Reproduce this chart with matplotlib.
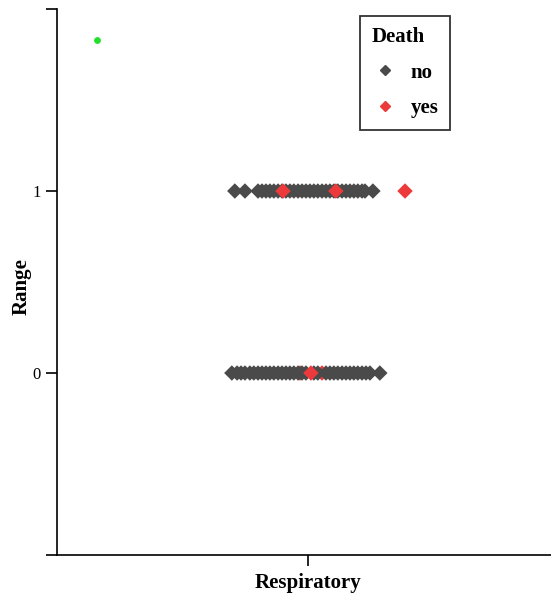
import numpy as np
import matplotlib.pyplot as plt
from matplotlib.lines import Line2D

plt.rcParams['font.family'] = ['Liberation Serif', 'DejaVu Serif']

# horizontal spread of each point around the "Respiratory" category (x = 0)
range0_x = [-0.032, 0.057, -0.308, -0.287, -0.271, -0.255, -0.235, -0.219, -0.202, -0.186,
            -0.170, -0.154, -0.138, -0.121, -0.105, -0.089, -0.073, -0.057, -0.040,
            -0.024, -0.008, 0.024, 0.040, 0.073, 0.089, 0.105, 0.121, 0.138, 0.154,
            0.170, 0.186, 0.202, 0.219, 0.235, 0.251, 0.291, 0.012]
range0_death = ['yes', 'yes'] + ['no'] * 34 + ['yes']

range1_x = [-0.296, -0.255, -0.202, -0.186, -0.170, -0.154, -0.138, -0.121, -0.105,
            -0.089, -0.073, -0.057, -0.040, -0.024, -0.008, 0.008, 0.024, 0.040, 0.057,
            0.073, 0.089, 0.105, 0.121, 0.138, 0.154, 0.170, 0.186, 0.202, 0.219,
            0.231, 0.263, -0.101, 0.113, 0.393]
range1_death = ['no'] * 31 + ['yes', 'yes', 'yes']

extra_x = [-0.854]
extra_y = [1.83]

colors = {'no': '#4a4a4a', 'yes': '#ec3a3c'}

x = range0_x + range1_x
y = [0] * len(range0_x) + [1] * len(range1_x)
death = range0_death + range1_death

fig = plt.figure(figsize=(5.51, 6.03), dpi=100)
ax = fig.add_axes([0.1034, 0.0796, 0.8966, 0.9054])

ax.scatter(x, y, c=[colors[d] for d in death], marker='D', s=62, linewidths=0)
ax.scatter(extra_x, extra_y, color='#22e02a', marker='o', s=24, linewidths=0)

ax.set_xlim(-1.016, 0.984)
ax.set_ylim(-1, 2)
ax.set_xticks([0])
ax.set_xticklabels([''])
ax.set_yticks([-1, 0, 1, 2])
ax.set_yticklabels(['', '0', '1', ''])
ax.tick_params(axis='both', length=8, width=1.2, labelsize=12)
for s in ['top', 'right']:
    ax.spines[s].set_visible(False)
for s in ['left', 'bottom']:
    ax.spines[s].set_linewidth(1.2)

fig.text(308 / 551, 1 - 583 / 603, 'Respiratory', fontsize=15, fontweight='bold',
         ha='center', va='center')
fig.text(22 / 551, 1 - 287 / 603, 'Range', fontsize=15, fontweight='bold',
         ha='center', va='center', rotation=90)

handles = [Line2D([], [], marker='D', linestyle='', color=colors[k], markersize=5.5, label=k)
           for k in ['no', 'yes']]
leg = ax.legend(handles=handles, title='Death', loc='upper left', bbox_to_anchor=(0.613, 0.988),
                frameon=True, fancybox=False, edgecolor='black', prop={'weight': 'bold', 'size': 15},
                title_fontproperties={'weight': 'bold', 'size': 15}, handletextpad=0.6,
                handlelength=1.3, borderpad=0.55, labelspacing=0.75, borderaxespad=0)
leg.get_frame().set_linewidth(1.3)
leg._legend_box.align = 'left'

fig.savefig('out.png', dpi=100)
